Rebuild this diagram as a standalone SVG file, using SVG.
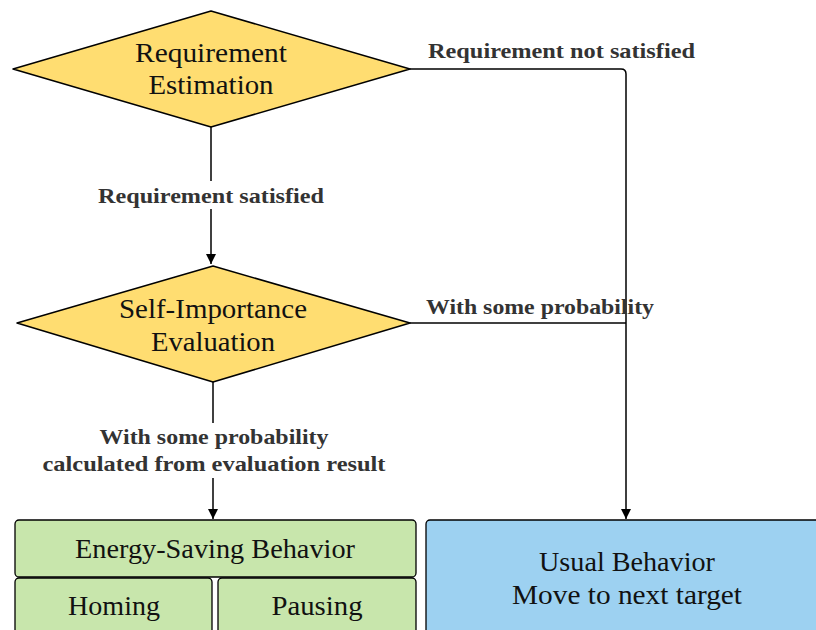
<svg xmlns="http://www.w3.org/2000/svg" width="816" height="630" viewBox="0 0 816 630">
<defs>
<marker id="arr" viewBox="0 0 10 10" refX="10" refY="5" markerWidth="10" markerHeight="10" markerUnits="userSpaceOnUse" orient="auto">
<path d="M0,0 L10,5 L0,10 Z" fill="#000"/>
</marker>
</defs>
<style>
.dia{fill:#ffdd71;stroke:#000;stroke-width:1.5;stroke-linejoin:round}
.green{fill:#c8e6ac;stroke:#000;stroke-width:1.3}
.blue{fill:#9dd1f1;stroke:#000;stroke-width:1.3}
.t{font-family:"Liberation Serif",serif;font-size:27px;fill:#111;text-anchor:middle}
.lbl{font-family:"Liberation Serif",serif;font-size:21px;font-weight:bold;fill:#333}
.c{text-anchor:middle}
.edge{fill:none;stroke:#000;stroke-width:1.5}
</style>
<rect width="816" height="630" fill="#fff"/>
<g id="connectors">
<path class="edge" d="M211,127 V181"/>
<path class="edge" d="M211,209 V264" marker-end="url(#arr)"/>
<path class="edge" d="M213,382 V423"/>
<path class="edge" d="M213,478 V519" marker-end="url(#arr)"/>
<path class="edge" d="M410,69 H621 Q626,69 626,74 V519" marker-end="url(#arr)"/>
<path class="edge" d="M410,323 H626"/>
<text class="lbl" x="428" y="58" textLength="267" lengthAdjust="spacingAndGlyphs">Requirement not satisfied</text>
<text class="lbl c" x="211" y="203" textLength="226" lengthAdjust="spacingAndGlyphs">Requirement satisfied</text>
<text class="lbl" x="426" y="314" textLength="228" lengthAdjust="spacingAndGlyphs">With some probability</text>
<text class="lbl c" x="214" y="444" textLength="229" lengthAdjust="spacingAndGlyphs">With some probability</text>
<text class="lbl c" x="214" y="471" textLength="343" lengthAdjust="spacingAndGlyphs">calculated from evaluation result</text>
</g>
<g id="req">
<polygon class="dia" points="13,69 211,11 410,69 211,127"/>
<text class="t" x="211" y="62" textLength="152" lengthAdjust="spacingAndGlyphs">Requirement</text>
<text class="t" x="211" y="94" textLength="125" lengthAdjust="spacingAndGlyphs">Estimation</text>
</g>
<g id="self">
<polygon class="dia" points="17,323 213,266 410,323 213,382"/>
<text class="t" x="213" y="318" textLength="188" lengthAdjust="spacingAndGlyphs">Self-Importance</text>
<text class="t" x="213" y="351" textLength="124" lengthAdjust="spacingAndGlyphs">Evaluation</text>
</g>
<g id="energy">
<rect class="green" x="15" y="520" width="401" height="57" rx="4"/>
<text class="t" x="215" y="558" textLength="280" lengthAdjust="spacingAndGlyphs">Energy-Saving Behavior</text>
</g>
<g id="homing">
<rect class="green" x="15" y="578" width="197" height="70" rx="4"/>
<text class="t" x="114" y="615" textLength="92" lengthAdjust="spacingAndGlyphs">Homing</text>
</g>
<g id="pausing">
<rect class="green" x="218" y="578" width="198" height="70" rx="4"/>
<text class="t" x="317" y="615" textLength="91" lengthAdjust="spacingAndGlyphs">Pausing</text>
</g>
<g id="usual">
<rect class="blue" x="426" y="520" width="410" height="130" rx="4"/>
<text class="t" x="627" y="571" textLength="176" lengthAdjust="spacingAndGlyphs">Usual Behavior</text>
<text class="t" x="627" y="604" textLength="230" lengthAdjust="spacingAndGlyphs">Move to next target</text>
</g>
</svg>
